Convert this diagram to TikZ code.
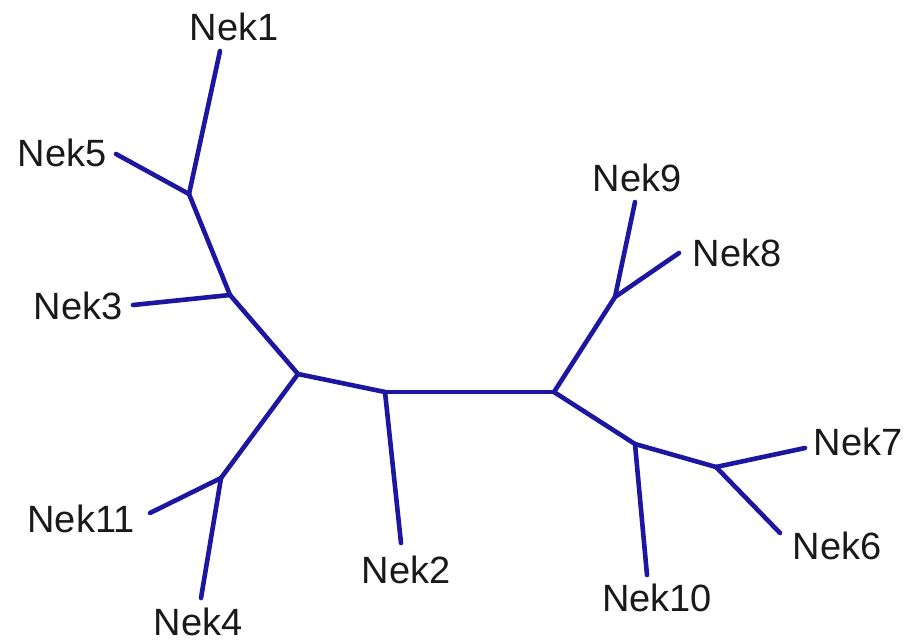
\documentclass[tikz,border=0pt]{standalone}
\usepackage{fontspec}
\setmainfont{Liberation Sans}
\definecolor{treeblue}{RGB}{28,22,160}
\begin{document}
\begin{tikzpicture}[x=1pt,y=-1pt,
  branch/.style={draw=treeblue,line width=4.6pt,line cap=round,line join=round},
  lab/.style={font=\fontsize{38}{42}\selectfont,text=black!90,inner sep=0pt}]
\useasboundingbox (0,0) rectangle (909,643);
% internal nodes
\coordinate (A) at (189,194);
\coordinate (B) at (230,295);
\coordinate (C) at (298,374);
\coordinate (D) at (221,478);
\coordinate (E) at (385,392);
\coordinate (F) at (554,392);
\coordinate (G) at (615,297);
\coordinate (H) at (635,444);
\coordinate (I) at (716,467);
% leaf ends
\coordinate (e1) at (220,51);
\coordinate (e5) at (116,154);
\coordinate (e3) at (133,305);
\coordinate (e11) at (150,513);
\coordinate (e4) at (201,598);
\coordinate (e2) at (401,543);
\coordinate (e9) at (635,202);
\coordinate (e8) at (679,253);
\coordinate (e7) at (805,448);
\coordinate (e6) at (780,533);
\coordinate (e10) at (647,575);
% labels
\node[lab] (n1) at (234,27) {Nek1};
\node[lab] (n5) at (62,153) {Nek5};
\node[lab] (n3) at (78,306) {Nek3};
\node[lab] (n11) at (81,519) {Nek11};
\node[lab] (n4) at (198,622) {Nek4};
\node[lab] (n2) at (406,570) {Nek2};
\node[lab] (n9) at (637,178) {Nek9};
\node[lab] (n8) at (737,253) {Nek8};
\node[lab] (n7) at (858,442) {Nek7};
\node[lab] (n6) at (837,546) {Nek6};
\node[lab] (n10) at (657,598) {Nek10};
% branches
\draw[branch] (e1) -- (A);
\draw[branch] (e5) -- (A);
\draw[branch] (A) -- (B);
\draw[branch] (e3) -- (B);
\draw[branch] (B) -- (C);
\draw[branch] (C) -- (D);
\draw[branch] (D) -- (e11);
\draw[branch] (D) -- (e4);
\draw[branch] (C) -- (E);
\draw[branch] (E) -- (e2);
\draw[branch] (E) -- (F);
\draw[branch] (F) -- (G);
\draw[branch] (G) -- (e9);
\draw[branch] (G) -- (e8);
\draw[branch] (F) -- (H);
\draw[branch] (H) -- (e10);
\draw[branch] (H) -- (I);
\draw[branch] (I) -- (e7);
\draw[branch] (I) -- (e6);
\end{tikzpicture}
\end{document}
